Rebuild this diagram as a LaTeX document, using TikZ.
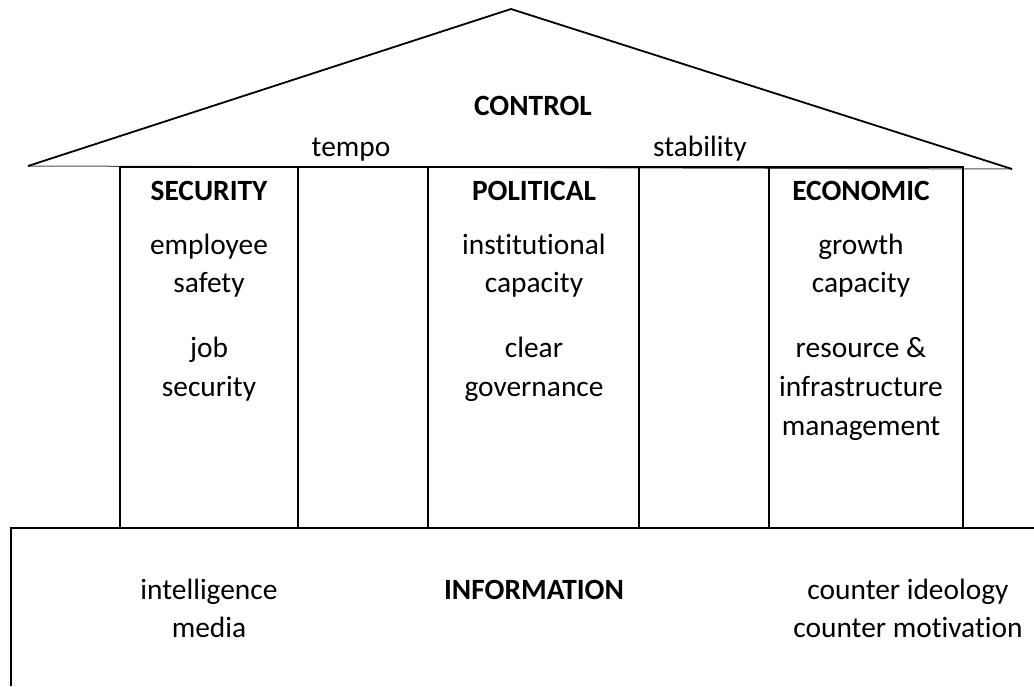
\documentclass[tikz,border=0pt]{standalone}
\usepackage{fontspec}
\setmainfont{Carlito}[Ligatures=NoCommon]
\begin{document}
\begin{tikzpicture}[x=0.5pt,y=-0.5pt,
  lbl/.style={anchor=base,inner sep=0pt,font=\fontsize{14.7}{18}\selectfont},
  head/.style={lbl,font=\fontsize{14.7}{18}\selectfont\bfseries},
  frame/.style={line width=1.1pt,black},
  roof/.style={line width=0.9pt,black,line join=miter},
  eave/.style={line width=0.5pt,black!70}]
\useasboundingbox (0,0) rectangle (1034,686);

% roof
\coordinate (rl) at (28,166);
\coordinate (rt) at (511,9);
\coordinate (rr) at (1012,169);
\draw[eave] (rl) -- (rr);
\draw[roof] (rl) -- (rt) -- (rr);

% pillars
\draw[frame] (120,167) rectangle (963,528);
\foreach \x in {298,428,639,769} \draw[frame] (\x,167) -- (\x,528);

% foundation
\draw[frame] (1034,528) -- (11,528) -- (11,686);

% roof texts
\node[head] (control) at (533,115) {CONTROL};
\node[lbl] (tempo) at (351,156) {tempo};
\node[lbl] (stab) at (700,156) {stability};

% pillar texts
\node[head] (sec) at (209,200) {SECURITY};
\node[lbl] (s1) at (209,254) {employee};
\node[lbl] (s2) at (209,292) {safety};
\node[lbl] (s3) at (209,357) {job};
\node[lbl] (s4) at (209,396) {security};

\node[head] (pol) at (534,200) {POLITICAL};
\node[lbl] (p1) at (534,254) {institutional};
\node[lbl] (p2) at (534,292) {capacity};
\node[lbl] (p3) at (534,357) {clear};
\node[lbl] (p4) at (534,396) {governance};

\node[head] (eco) at (861,200) {ECONOMIC};
\node[lbl] (e1) at (861,254) {growth};
\node[lbl] (e2) at (861,292) {capacity};
\node[lbl] (e3) at (861,357) {resource \&};
\node[lbl] (e4) at (861,396) {infrastructure};
\node[lbl] (e5) at (861,435) {management};

% foundation texts
\node[lbl] (i1) at (209,599) {intelligence};
\node[lbl] (i2) at (209,637) {media};
\node[head] (info) at (534,599) {INFORMATION};
\node[lbl] (c1) at (908,599) {counter ideology};
\node[lbl] (c2) at (908,637) {counter motivation};
\end{tikzpicture}
\end{document}
